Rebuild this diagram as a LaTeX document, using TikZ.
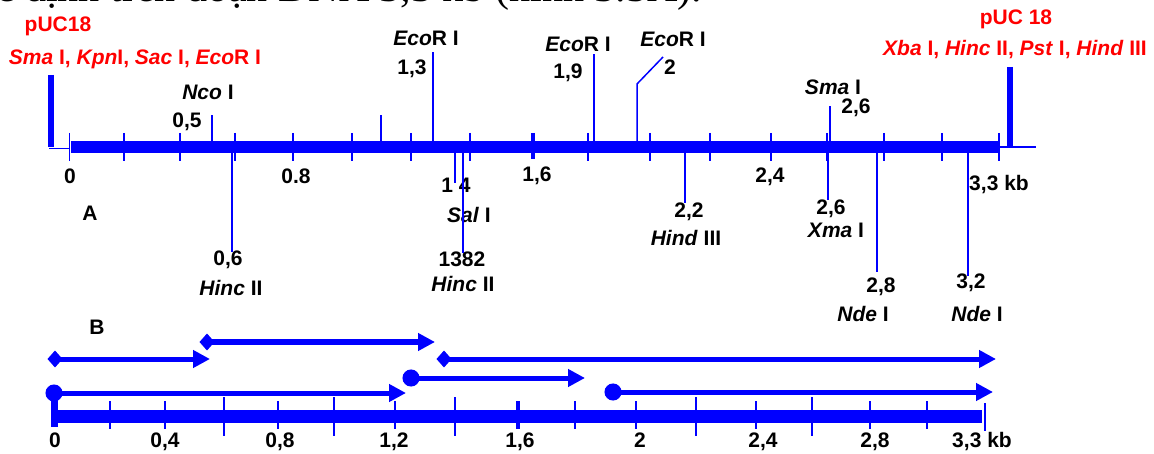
\documentclass[tikz,border=0pt]{standalone}
\usepackage{fontspec}
\setsansfont{Liberation Sans}
\newfontfamily\timesf{Liberation Serif}
\usetikzlibrary{arrows.meta}
\definecolor{dblue}{RGB}{0,0,255}
\definecolor{dred}{RGB}{255,0,0}
\tikzset{
  lbl/.style={font=\sffamily\bfseries\fontsize{21}{23}\selectfont, inner sep=0pt, text height=15pt, text depth=0pt, text=black},
  rlbl/.style={lbl, text=dred},
  site/.style={draw=dblue, line width=1.5pt},
  tickln/.style={draw=dblue, line width=1.5pt},
  thicktick/.style={draw=dblue, line width=4.5pt},
  mainbar/.style={draw=dblue, line width=12pt},
  pucbar/.style={draw=dblue, line width=5.5pt},
  fragD/.style={draw=dblue, line width=5pt, {Diamond[length=15pt,width=17pt]}-{Triangle[length=17pt,width=17pt]}},
  fragC/.style={draw=dblue, line width=5pt, {Circle[length=17pt]}-{Triangle[length=17pt,width=17pt]}},
}
\begin{document}
\begin{tikzpicture}[x=1pt,y=-1pt]
\useasboundingbox (0,0) rectangle (1154,454);
\clip (0,0) rectangle (1154,454);

% caption fragment cut at the top
\node[font=\timesf\fontsize{42}{44}\selectfont, anchor=base east, inner sep=0pt] (cap) at (702,2) {xác định trên đoạn DNA 3,3 kb (hình 3.5A).};

% ---------------- A ----------------
% red pUC18 labels
\node[rlbl] (puc1) at (58,24) {pUC18};
\node[rlbl] (enzL) at (135,57) {\textit{Sma} I, \textit{Kpn}I, \textit{Sac} I, \textit{Eco}R I};
\node[rlbl] (puc2) at (1016,17) {pUC 18};
\node[rlbl] (enzR) at (1015,48) {\textit{Xba} I, \textit{Hinc} II, \textit{Pst} I, \textit{Hind} III};

% labels above
\node[lbl] (nco) at (208,92) {\textit{Nco} I};
\node[lbl] (n05) at (187,120) {0,5};
\node[lbl] (e13) at (426,38) {\textit{Eco}R I};
\node[lbl] (n13) at (412,67) {1,3};
\node[lbl] (e19) at (578,44) {\textit{Eco}R I};
\node[lbl] (n19) at (568,71) {1,9};
\node[lbl] (e20) at (673,39) {\textit{Eco}R I};
\node[lbl] (n20) at (670,67) {2};
\node[lbl] (sma) at (833,87) {\textit{Sma} I};
\node[lbl] (n26a) at (856,106) {2,6};

% scale labels
\node[lbl] (sa0) at (70,176) {0};
\node[lbl] (sa1) at (296,176) {0.8};
\node[lbl] (sa2) at (537,174) {1,6};
\node[lbl] (sa3) at (770,175) {2,4};
\node[lbl] (sa4) at (999,183) {3,3 kb};
\node[lbl] (labA) at (90,213) {A};

% labels below
\node[lbl] (n06) at (228,258) {0,6};
\node[lbl] (hinc1) at (231,288) {\textit{Hinc} II};
\node[lbl] (n14) at (456,185) {1 4};
\node[lbl] (sal) at (469,215) {\textit{Sal} I};
\node[lbl] (n1382) at (462,259) {1382};
\node[lbl] (hinc2) at (463,284) {\textit{Hinc} II};
\node[lbl] (n22) at (689,210) {2,2};
\node[lbl] (hind) at (686,238) {\textit{Hind} III};
\node[lbl] (n26b) at (831,207) {2,6};
\node[lbl] (xma) at (836,230) {\textit{Xma} I};
\node[lbl] (n28) at (881,285) {2,8};
\node[lbl] (nde1) at (863,314) {\textit{Nde} I};
\node[lbl] (n32) at (971,281) {3,2};
\node[lbl] (nde2) at (977,314) {\textit{Nde} I};

% main bar A
\coordinate (a0) at (71,147.5);
\coordinate (a1) at (998,147.5);
\draw[mainbar] (a0) -- (a1);
\foreach \x [count=\i] in {69.5,124,180,235,293,352,411,470,588,650,710,771,827,884,942,999} {
  \coordinate (tat\i) at (\x,133);
  \coordinate (tab\i) at (\x,161);
  \draw[tickln] (tat\i) -- (tab\i);
}
\coordinate (t16t) at (533,133);
\coordinate (t16b) at (533,159);
\draw[thicktick] (t16t) -- (t16b);

% pUC18 ends
\coordinate (pl0) at (51,75);
\coordinate (pl1) at (51,147);
\draw[pucbar] (pl0) -- (pl1);
\coordinate (pl2) at (49,148.5);
\coordinate (pl3) at (70,148.5);
\draw[site] (pl2) -- (pl3);
\coordinate (pr0) at (1010,67);
\coordinate (pr1) at (1010,146);
\draw[pucbar] (pr0) -- (pr1);
\coordinate (pr2) at (1000,147);
\coordinate (pr3) at (1036,147);
\draw[site] (pr2) -- (pr3);

% sites above
\foreach \nm/\x/\y in {nco/212/115, unl/381/115, ecoa/433/52, ecob/594/54, smaa/830/106} {
  \coordinate (\nm-b) at (\x,142);
  \coordinate (\nm-t) at (\x,\y);
  \draw[site] (\nm-b) -- (\nm-t);
}
\coordinate (ecoc-b) at (637,142);
\coordinate (ecoc-m) at (637,84);
\coordinate (ecoc-t) at (663,57);
\draw[site] (ecoc-b) -- (ecoc-m) -- (ecoc-t);

% sites below
\foreach \nm/\x/\y in {hinca/232/252, sala/455/183, hincb/463/253, hinda/685/203, xmaa/828/200, ndea/877/272, ndeb/968/276} {
  \coordinate (\nm-t) at (\x,153);
  \coordinate (\nm-b) at (\x,\y);
  \draw[site] (\nm-t) -- (\nm-b);
}

% ---------------- B ----------------
\node[lbl] (labB) at (97,327) {B};

\coordinate (b0) at (52,416.5);
\coordinate (b1) at (982,416.5);
\draw[draw=dblue, line width=13pt] (b0) -- (b1);
\foreach \x [count=\i] in {110,165,278,395,575,636,756,870,927} {
  \coordinate (tbt\i) at (\x,401);
  \coordinate (tbb\i) at (\x,429);
  \draw[tickln] (tbt\i) -- (tbb\i);
}
\foreach \x [count=\i] in {224,334,455,696,812} {
  \coordinate (tct\i) at (\x,397);
  \coordinate (tcb\i) at (\x,436);
  \draw[tickln] (tct\i) -- (tcb\i);
}
\coordinate (tb16t) at (518,401);
\coordinate (tb16b) at (518,429);
\draw[thicktick] (tb16t) -- (tb16b);
\coordinate (tbet) at (985,403);
\coordinate (tbeb) at (985,431);
\draw[tickln] (tbet) -- (tbeb);
\coordinate (stem0) at (54,393);
\coordinate (stem1) at (54,427);
\draw[draw=dblue, line width=7pt] (stem0) -- (stem1);

\node[lbl] (sb0) at (55,440) {0};
\node[lbl] (sb1) at (165,440) {0,4};
\node[lbl] (sb2) at (280,440) {0,8};
\node[lbl] (sb3) at (394,440) {1,2};
\node[lbl] (sb4) at (520,440) {1,6};
\node[lbl] (sb5) at (640,440) {2};
\node[lbl] (sb6) at (763,440) {2,4};
\node[lbl] (sb7) at (875,440) {2,8};
\node[lbl] (sb8) at (982,440) {3,3 kb};

% fragments
\coordinate (f1s) at (199.5,342); \coordinate (f1e) at (435,342);
\coordinate (f2s) at (47.5,359);  \coordinate (f2e) at (210,359);
\coordinate (f3s) at (436.5,359); \coordinate (f3e) at (996,359);
\coordinate (f4s) at (402.5,378); \coordinate (f4e) at (585,378);
\coordinate (f5s) at (45.5,393);  \coordinate (f5e) at (406,393);
\coordinate (f6s) at (604.5,392); \coordinate (f6e) at (993,392);
\draw[fragD] (f1s) -- (f1e);
\draw[fragD] (f2s) -- (f2e);
\draw[fragD] (f3s) -- (f3e);
\draw[fragC] (f4s) -- (f4e);
\draw[fragC] (f5s) -- (f5e);
\draw[fragC] (f6s) -- (f6e);
\end{tikzpicture}
\end{document}
